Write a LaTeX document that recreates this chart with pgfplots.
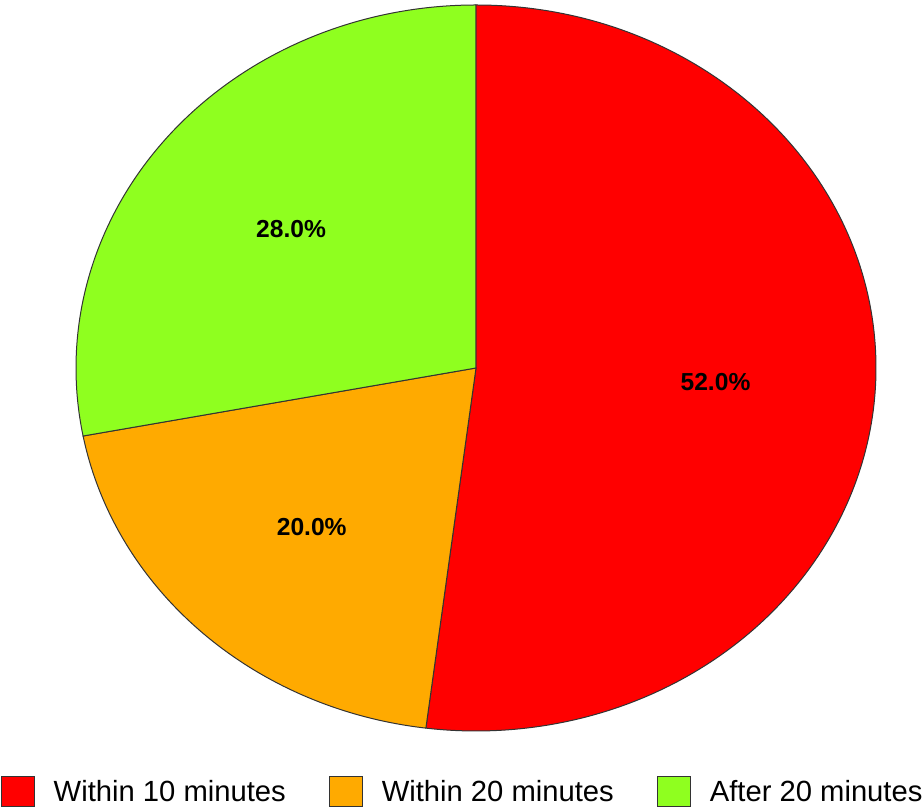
\documentclass[border=0pt]{standalone}
\usepackage{pgfplots}
\pgfplotsset{compat=1.18}
\usepackage{fontspec}
\setmainfont{Liberation Sans}

\definecolor{slicered}{RGB}{255,0,0}
\definecolor{sliceorange}{RGB}{255,170,0}
\definecolor{slicegreen}{RGB}{143,255,31}

% shares in percent
\def\va{52}
\def\vb{20}
\def\vc{28}

\begin{document}
\begin{tikzpicture}
\useasboundingbox (-238pt,-222pt) rectangle (223pt,184pt);
\begin{axis}[
    at={(0,0)}, anchor=center,
    x=200pt, y=181.5pt,
    xmin=-1, xmax=1, ymin=-1, ymax=1,
    hide axis,
    clip=false,
    legend columns=3,
    legend image code/.code={\draw[#1] (0pt,-7.5pt) rectangle (16.5pt,7.5pt);},
    legend style={
        at={(0.4845,-0.084)}, anchor=center,
        draw=none, fill=none,
        font=\fontsize{14.6}{17}\selectfont,
        cells={anchor=west},
        /tikz/every odd column/.append style={column sep=7.5pt},
        /tikz/every even column/.append style={column sep=19.5pt},
    },
]
\addlegendimage{fill=slicered, draw=black!80, line width=0.5pt}
\addlegendentry{Within 10 minutes}
\addlegendimage{fill=sliceorange, draw=black!80, line width=0.5pt}
\addlegendentry{Within 20 minutes}
\addlegendimage{fill=slicegreen, draw=black!80, line width=0.5pt}
\addlegendentry{After 20 minutes}

\filldraw[fill=slicered, draw=black!80, line width=0.5pt]
    (axis cs:0,0) -- (axis cs:0,1)
    arc[start angle=90, end angle={90-3.6*\va}, x radius=200pt, y radius=181.5pt] -- cycle;
\filldraw[fill=sliceorange, draw=black!80, line width=0.5pt]
    (axis cs:0,0) -- (axis cs:{cos(90-3.6*\va)},{sin(90-3.6*\va)})
    arc[start angle={90-3.6*\va}, end angle={90-3.6*(\va+\vb)}, x radius=200pt, y radius=181.5pt] -- cycle;
\filldraw[fill=slicegreen, draw=black!80, line width=0.5pt]
    (axis cs:0,0) -- (axis cs:{cos(90-3.6*(\va+\vb))},{sin(90-3.6*(\va+\vb))})
    arc[start angle={90-3.6*(\va+\vb)}, end angle=-270, x radius=200pt, y radius=181.5pt] -- cycle;

\node[font=\fontsize{12.3}{14}\selectfont\bfseries]
    at (axis cs:{0.6*cos(90-1.8*\va)},{0.6*sin(90-1.8*\va)}) {52.0\%};
\node[font=\fontsize{12.3}{14}\selectfont\bfseries]
    at (axis cs:{0.6*cos(90-3.6*\va-1.8*\vb)},{0.6*sin(90-3.6*\va-1.8*\vb)}) {20.0\%};
\node[font=\fontsize{12.3}{14}\selectfont\bfseries]
    at (axis cs:{0.6*cos(90-3.6*(\va+\vb)-1.8*\vc)},{0.6*sin(90-3.6*(\va+\vb)-1.8*\vc)}) {28.0\%};
\end{axis}
\end{tikzpicture}
\end{document}
